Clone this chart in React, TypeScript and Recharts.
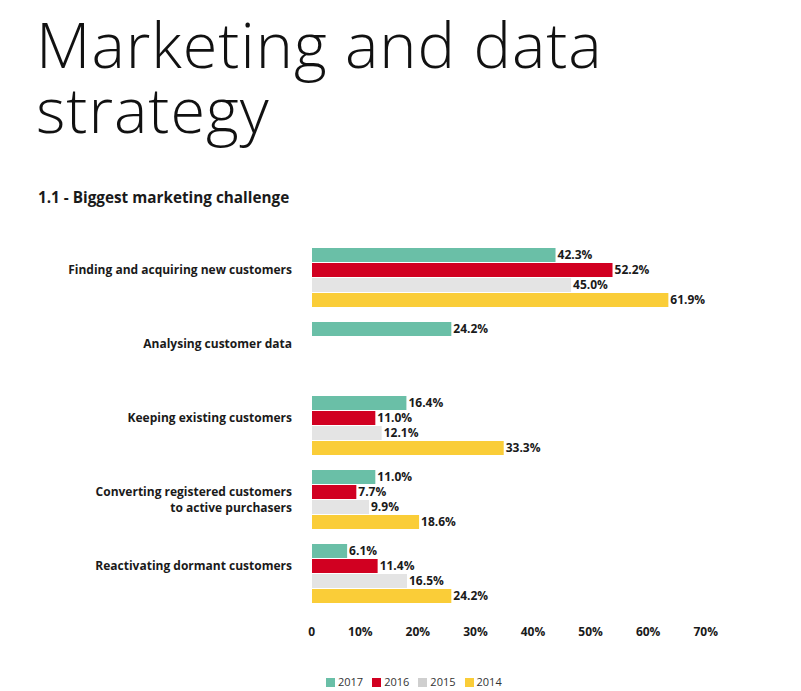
import React from "react";
import { BarChart, Bar, XAxis, YAxis, LabelList } from "recharts";

const categories = [
  "Finding and acquiring new customers",
  "Analysing customer data",
  "Keeping existing customers",
  "Converting registered customers|to active purchasers",
  "Reactivating dormant customers",
];

const values2017 = [42.3, 24.2, 16.4, 11.0, 6.1];
const values2016 = [52.2, null, 11.0, 7.7, 11.4];
const values2015 = [45.0, null, 12.1, 9.9, 16.5];
const values2014 = [61.9, null, 33.3, 18.6, 24.2];

const xTicks = [0, 10, 20, 30, 40, 50, 60, 70];

const SERIES = [
  { key: "y2017", name: "2017", color: "#6abfa7", legend: "#6abfa7" },
  { key: "y2016", name: "2016", color: "#d10021", legend: "#d10021" },
  { key: "y2015", name: "2015", color: "#e4e4e4", legend: "#cfcfcf" },
  { key: "y2014", name: "2014", color: "#facd38", legend: "#facd38" },
];

const data = categories.map((c, i) => ({
  category: c,
  y2017: values2017[i],
  y2016: values2016[i],
  y2015: values2015[i],
  y2014: values2014[i],
}));

const FONT = "'Open Sans', sans-serif";

const CategoryTick = (props: any) => {
  const { y, payload } = props;
  const lines = String(payload.value).split("|");
  return (
    <g>
      {lines.map((line, i) => (
        <text
          key={i}
          x={292}
          y={y - 8 + i * 16}
          textAnchor="end"
          dominantBaseline="central"
          fontFamily={FONT}
          fontWeight={700}
          fontSize={12}
          fill="#1a1a1a"
        >
          {line}
        </text>
      ))}
    </g>
  );
};

const ValueTick = (props: any) => {
  const { x, payload } = props;
  return (
    <text
      x={x + 3}
      y={631}
      textAnchor="end"
      dominantBaseline="central"
      fontFamily={FONT}
      fontWeight={700}
      fontSize={12}
      fill="#1a1a1a"
    >
      {payload.value === 0 ? "0" : `${payload.value}%`}
    </text>
  );
};

const titleLine: React.CSSProperties = {
  position: "absolute",
  left: 36,
  fontFamily: FONT,
  fontWeight: 300,
  fontSize: 63,
  lineHeight: "65px",
  height: 65,
  letterSpacing: 1,
  color: "#111",
  whiteSpace: "nowrap",
};

export default function App() {
  return (
    <div style={{ position: "relative", width: 801, height: 691, background: "#fff", overflow: "hidden" }}>
      <style>{"body{margin:0}"}</style>
      <div style={{ ...titleLine, top: 11 }}>Marketing and data</div>
      <div style={{ ...titleLine, top: 76 }}>strategy</div>
      <div
        style={{
          position: "absolute",
          left: 38,
          top: 187,
          fontFamily: FONT,
          fontWeight: 700,
          fontSize: 15.3,
          color: "#1a1a1a",
          whiteSpace: "nowrap",
        }}
      >
        1.1 - Biggest marketing challenge
      </div>
      <div style={{ position: "absolute", left: 0, top: 0 }}>
        <BarChart
          width={801}
          height={691}
          data={data}
          layout="vertical"
          margin={{ top: 240, right: 86, left: 0, bottom: 51 }}
          barCategoryGap={8}
          barGap={1}
        >
          <XAxis
            type="number"
            domain={[0, 70]}
            ticks={xTicks}
            axisLine={false}
            tickLine={false}
            height={30}
            tick={<ValueTick />}
            interval={0}
          />
          <YAxis
            type="category"
            dataKey="category"
            width={312}
            axisLine={false}
            tickLine={false}
            tick={<CategoryTick />}
            interval={0}
          />
          {SERIES.map((s) => (
            <Bar key={s.key} dataKey={s.key} name={s.name} fill={s.color} isAnimationActive={false}>
              <LabelList
                dataKey={s.key}
                position="right"
                offset={2}
                formatter={(v: any) => (v == null ? "" : `${Number(v).toFixed(1)}%`)}
                style={{ fontFamily: FONT, fontWeight: 700, fontSize: 12, fill: "#1a1a1a" }}
              />
            </Bar>
          ))}
        </BarChart>
      </div>
      <div
        style={{
          position: "absolute",
          left: 326,
          top: 674,
          display: "flex",
          fontFamily: FONT,
          fontSize: 11,
          lineHeight: "16px",
          color: "#333",
        }}
      >
        {SERIES.map((s) => (
          <div key={s.key} style={{ display: "flex", alignItems: "center", marginRight: 9 }}>
            <span style={{ width: 9, height: 9, background: s.legend, display: "inline-block", marginRight: 3 }} />
            <span>{s.name}</span>
          </div>
        ))}
      </div>
    </div>
  );
}
